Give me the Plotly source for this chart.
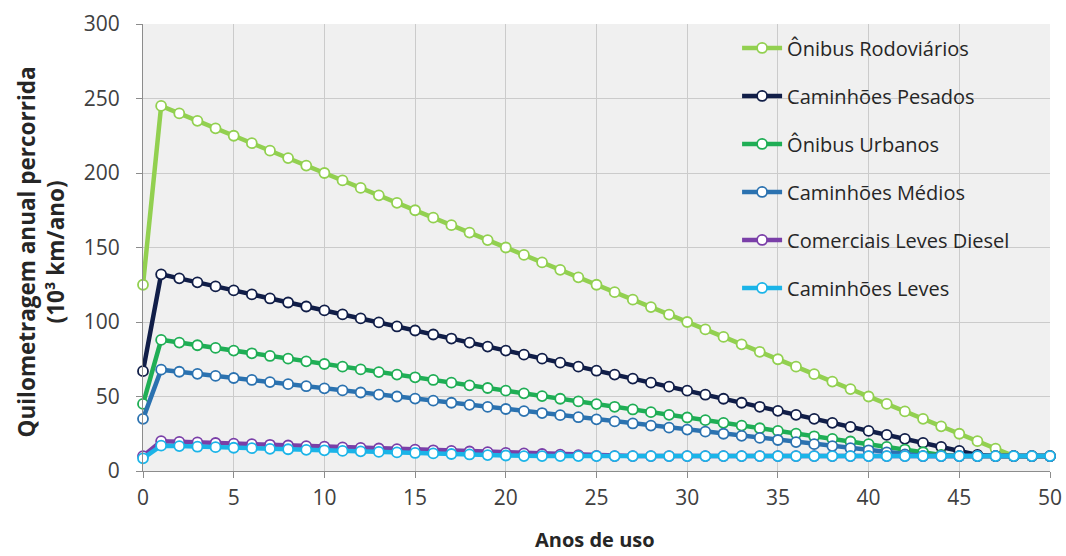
import plotly.graph_objects as go

anos = list(range(0, 51))

onibus_rodoviarios = [125, 245, 240, 235, 230, 225, 220, 215, 210, 205, 200,
                      195, 190, 185, 180, 175, 170, 165, 160, 155, 150,
                      145, 140, 135, 130, 125, 120, 115, 110, 105, 100,
                      95, 90, 85, 80, 75, 70, 65, 60, 55, 50,
                      45, 40, 35, 30, 25, 20, 15, 10, 10, 10]

caminhoes_pesados = [67, 132.0, 129.3, 126.6, 123.9, 121.2, 118.5, 115.8, 113.1, 110.4, 107.8,
                     105.1, 102.4, 99.7, 97.0, 94.3, 91.6, 88.9, 86.2, 83.5, 80.8,
                     78.1, 75.4, 72.7, 70.0, 67.3, 64.7, 62.0, 59.3, 56.6, 53.9,
                     51.2, 48.5, 45.8, 43.1, 40.4, 37.7, 35.0, 32.3, 29.6, 26.9,
                     24.2, 21.6, 18.9, 16.2, 13.5, 10.8, 10, 10, 10, 10]

onibus_urbanos = [45, 88.0, 86.2, 84.4, 82.6, 80.8, 79.0, 77.2, 75.4, 73.6, 71.8,
                  70.0, 68.2, 66.4, 64.7, 62.9, 61.1, 59.3, 57.5, 55.7, 53.9,
                  52.1, 50.3, 48.5, 46.7, 44.9, 43.1, 41.3, 39.5, 37.7, 35.9,
                  34.1, 32.3, 30.5, 28.7, 26.9, 25.1, 23.3, 21.6, 19.8, 18.0,
                  16.2, 14.4, 12.6, 10.8, 10, 10, 10, 10, 10, 10]

caminhoes_medios = [35, 68.0, 66.6, 65.2, 63.8, 62.4, 61.1, 59.7, 58.3, 56.9, 55.5,
                    54.1, 52.7, 51.3, 50.0, 48.6, 47.2, 45.8, 44.4, 43.0, 41.6,
                    40.2, 38.9, 37.5, 36.1, 34.7, 33.3, 31.9, 30.5, 29.1, 27.8,
                    26.4, 25.0, 23.6, 22.2, 20.8, 19.4, 18.0, 16.7, 15.3, 13.9,
                    12.5, 11.1, 10, 10, 10, 10, 10, 10, 10, 10]

comerciais_leves_diesel = [10, 20.0, 19.6, 19.2, 18.8, 18.4, 18.0, 17.6, 17.1, 16.7, 16.3,
                           15.9, 15.5, 15.1, 14.7, 14.3, 13.9, 13.5, 13.1, 12.7, 12.2,
                           11.8, 11.4, 11.0, 10.6, 10.2, 10, 10, 10, 10, 10,
                           10, 10, 10, 10, 10, 10, 10, 10, 10, 10,
                           10, 10, 10, 10, 10, 10, 10, 10, 10, 10]

caminhoes_leves = [8.5, 17.0, 16.7, 16.3, 16.0, 15.6, 15.3, 14.9, 14.6, 14.2, 13.9,
                   13.5, 13.2, 12.8, 12.5, 12.1, 11.8, 11.4, 11.1, 10.7, 10.4,
                   10.0, 10, 10, 10, 10, 10, 10, 10, 10, 10,
                   10, 10, 10, 10, 10, 10, 10, 10, 10, 10,
                   10, 10, 10, 10, 10, 10, 10, 10, 10, 10]

series_names = ["Ônibus Rodoviários", "Caminhões Pesados", "Ônibus Urbanos",
                "Caminhões Médios", "Comerciais Leves Diesel", "Caminhões Leves"]
series_values = [onibus_rodoviarios, caminhoes_pesados, onibus_urbanos,
                 caminhoes_medios, comerciais_leves_diesel, caminhoes_leves]
series_colors = ["#92D050", "#111E48", "#1FAE55", "#2B72B0", "#7A3FA8", "#1BB4E8"]

x_ticks = [0, 5, 10, 15, 20, 25, 30, 35, 40, 45, 50]
y_ticks = [0, 50, 100, 150, 200, 250, 300]

FONT = "Open Sans"
TXT = "#404040"

fig = go.Figure()
for name, vals, col in zip(series_names, series_values, series_colors):
    fig.add_trace(go.Scatter(
        x=anos, y=vals, name=name, mode="lines+markers",
        legendgroup=name,
        line=dict(color=col, width=4.5),
        marker=dict(symbol="circle", size=10, color="white",
                    line=dict(color=col, width=1.8)),
        cliponaxis=False,
    ))

fig.update_layout(
    width=1066, height=556,
    margin=dict(l=143, r=16, t=24, b=85, autoexpand=False),
    paper_bgcolor="white",
    plot_bgcolor="#F0F0F0",
    font=dict(family=FONT, color=TXT, size=20),
    showlegend=True,
    legend=dict(
        x=0.655, y=0.99, xanchor="left", yanchor="top",
        bgcolor="rgba(0,0,0,0)",
        font=dict(family=FONT, size=20, color="#262626"),
        tracegroupgap=19,
        itemwidth=40,
    ),
    xaxis=dict(
        range=[0, 50], tickvals=x_ticks, ticktext=[str(v) for v in x_ticks],
        showgrid=True, gridcolor="#CBCBCB", gridwidth=1,
        showline=True, linecolor="#8C8C8C", linewidth=1,
        ticks="outside", ticklen=6, tickcolor="#8C8C8C",
        ticklabelstandoff=2, automargin=False,
        tickfont=dict(family=FONT, size=21, color=TXT),
        zeroline=False, fixedrange=True,
    ),
    yaxis=dict(
        range=[0, 300], tickvals=y_ticks, ticktext=[str(v) for v in y_ticks],
        showgrid=True, gridcolor="#CBCBCB", gridwidth=1,
        showline=True, linecolor="#8C8C8C", linewidth=1,
        ticks="outside", ticklen=6, tickcolor="#8C8C8C",
        ticklabelstandoff=12, automargin=False,
        tickfont=dict(family=FONT, size=21, color=TXT),
        zeroline=False, fixedrange=True,
    ),
    annotations=[
        dict(text="<b>Quilometragem anual percorrida<br>(10³ km/ano)</b>",
             xref="paper", yref="paper", x=-0.113, y=0.49,
             xanchor="center", yanchor="middle", textangle=-90,
             showarrow=False, font=dict(family=FONT, size=22.5, color="#262626")),
        dict(text="<b>Anos de uso</b>",
             xref="paper", yref="paper", x=0.498, y=-0.154,
             xanchor="center", yanchor="middle",
             showarrow=False, font=dict(family=FONT, size=20, color="#262626")),
    ],
)

fig.write_html(
    "out.html",
    config={"displayModeBar": False},
    post_script="document.body.style.margin='0';document.body.style.overflow='hidden';",
)
